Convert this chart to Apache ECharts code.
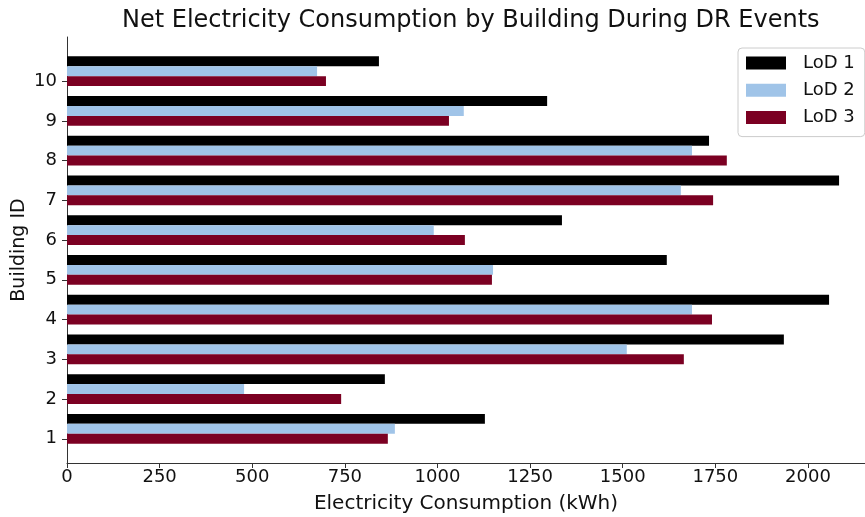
<!DOCTYPE html>
<html>
<head>
<meta charset="utf-8">
<script src="https://cdn.jsdelivr.net/npm/echarts@6/dist/echarts.min.js"></script>
<style>html,body{margin:0;padding:0;background:#fff}#c{width:865px;height:517px}</style>
</head>
<body>
<div id="c"></div>
<script>
// Data
const buildings = [1, 2, 3, 4, 5, 6, 7, 8, 9, 10];
const lod1 = [1128, 858, 1935, 2057, 1619, 1336, 2084, 1733, 1296, 842];
const lod2 = [885, 478, 1511, 1687, 1150, 990, 1657, 1687, 1071, 675];
const lod3 = [866, 740, 1665, 1741, 1147, 1074, 1744, 1781, 1031, 699];
const seriesNames = ['LoD 1', 'LoD 2', 'LoD 3'];
const xTicks = [0, 250, 500, 750, 1000, 1250, 1500, 1750, 2000];

const colors = ['#000000', '#a0c4e8', '#7b0022'];
const BAR_H = 0.25;
const offsets = [2 * BAR_H, BAR_H, 0];
const font = 'DejaVu Sans';

function makeRender(off) {
  return function (params, api) {
    const v = api.value(0), y = api.value(1) + off;
    const s = api.coord([0, y]);
    const e = api.coord([v, y]);
    const h = api.size([0, BAR_H])[1];
    return {
      type: 'rect',
      shape: { x: s[0], y: s[1] - h / 2, width: e[0] - s[0], height: h },
      style: { fill: api.visual('color') }
    };
  };
}

const allValues = [lod1, lod2, lod3];
const series = allValues.map((vals, k) => ({
  name: seriesNames[k],
  type: 'custom',
  renderItem: makeRender(offsets[k]),
  itemStyle: { color: colors[k] },
  encode: { x: 0, y: 1 },
  data: buildings.map((b, i) => [vals[i], b]),
  z: 2
}));

const chart = echarts.init(document.getElementById('c'), null, { renderer: 'canvas' });
chart.setOption({
  animation: false,
  backgroundColor: '#fff',
  title: {
    text: 'Net Electricity Consumption by Building During DR Events',
    left: 122, top: 9, padding: 0,
    textStyle: { fontFamily: font, fontSize: 24, fontWeight: 'normal', color: '#111' }
  },
  legend: {
    orient: 'vertical',
    left: 738, top: 48,
    padding: [6, 10, 10, 8],
    itemGap: 9.3,
    itemWidth: 40, itemHeight: 13,
    icon: 'rect',
    borderColor: '#cccccc', borderWidth: 1, borderRadius: 4,
    backgroundColor: 'rgba(255,255,255,0.8)',
    textStyle: { fontFamily: font, fontSize: 18, color: '#111', lineHeight: 18, padding: [0, 0, 0, 12] },
    data: seriesNames
  },
  grid: { left: 67, right: 0, top: 37, bottom: 54, containLabel: false, outerBoundsMode: 'none' },
  xAxis: {
    type: 'value', min: 0, max: 2154, interval: 250,
    name: 'Electricity Consumption (kWh)', nameLocation: 'middle', nameGap: 31,
    nameMoveOverlap: false,
    nameTextStyle: { fontFamily: font, fontSize: 20, color: '#111' },
    axisLine: { show: true, lineStyle: { color: '#333', width: 1 } },
    axisTick: { show: true, length: 5, lineStyle: { color: '#333' }, customValues: xTicks },
    axisLabel: { fontFamily: font, fontSize: 18, color: '#111', margin: 5, customValues: xTicks,
      formatter: v => String(v) },
    splitLine: { show: false }
  },
  yAxis: {
    type: 'value', min: 0.39, max: 11.11,
    name: 'Building ID', nameLocation: 'middle', nameGap: 38, nameRotate: 90,
    nameMoveOverlap: false,
    nameTextStyle: { fontFamily: font, fontSize: 19, color: '#111' },
    axisLine: { show: true, lineStyle: { color: '#333', width: 1 } },
    axisTick: { show: true, length: 5, lineStyle: { color: '#333' }, customValues: buildings },
    axisLabel: { fontFamily: font, fontSize: 18, color: '#111', margin: 10, customValues: buildings,
      formatter: v => String(v) },
    splitLine: { show: false }
  },
  series: series
});
</script>
</body>
</html>
